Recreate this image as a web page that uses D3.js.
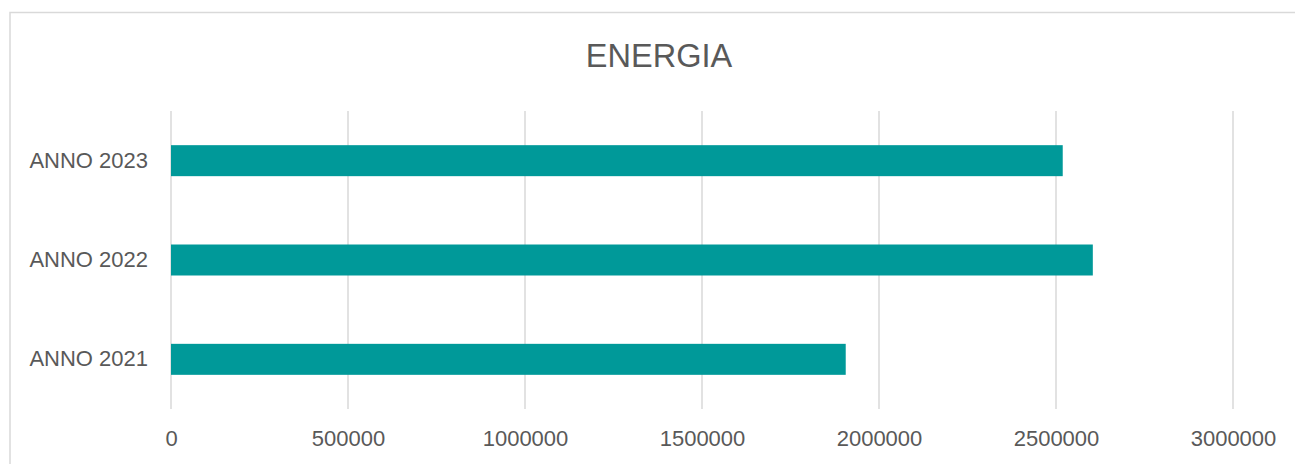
<!DOCTYPE html>
<html>
<head>
<meta charset="utf-8">
<script src="https://cdn.jsdelivr.net/npm/d3@7"></script>
<style>
  body { margin: 0; background: #fff; }
  text { font-family: "Liberation Sans", Arial, sans-serif; fill: #595959; }
</style>
</head>
<body>
<div id="chart"></div>
<script>
const categories = ["ANNO 2023", "ANNO 2022", "ANNO 2021"]
const values = [2519000, 2604000, 1906000]
const tickValues = [0, 500000, 1000000, 1500000, 2000000, 2500000, 3000000]
const title = "ENERGIA"

const outerWidth = 1295
const outerHeight = 464
const margin = {top: 111, bottom: 55, left: 171, right: 62}
const w = outerWidth - margin.left - margin.right
const h = outerHeight - margin.top - margin.bottom

const root = d3.select("#chart")
    .append("svg")
    .attr("width", outerWidth)
    .attr("height", outerHeight)

// chart frame (runs off the right/bottom edge like the source)
root.append("rect")
    .attr("x", 10)
    .attr("y", 12.5)
    .attr("width", outerWidth + 20)
    .attr("height", outerHeight + 20)
    .attr("fill", "none")
    .attr("stroke", "#d9d9d9")
    .attr("stroke-width", 1.5)

root.append("text")
    .attr("x", 659)
    .attr("y", 67)
    .attr("text-anchor", "middle")
    .style("font-size", "32.5px")
    .text(title)

const svg = root.append("g")
    .attr("transform", `translate(${margin.left}, ${margin.top})`)

const xScale = d3.scaleLinear()
    .domain([0, 3000000])
    .range([0, w])

const yScale = d3.scaleBand()
    .domain(categories)
    .range([0, h])
    .paddingInner(0.688)
    .paddingOuter(0.344)

svg.append("g")
    .attr("class", "grid")
    .selectAll("line")
    .data(tickValues)
    .join("line")
    .attr("x1", d => xScale(d))
    .attr("x2", d => xScale(d))
    .attr("y1", 0)
    .attr("y2", h)
    .attr("stroke", "#d9d9d9")
    .attr("stroke-width", 1.5)

svg.selectAll(".bar")
    .data(values)
    .join("rect")
    .attr("class", "bar")
    .attr("x", 0)
    .attr("y", (d, i) => yScale(categories[i]))
    .attr("width", d => xScale(d))
    .attr("height", yScale.bandwidth())
    .attr("fill", "#009999")

const xAxis = d3.axisBottom(xScale)
    .tickValues(tickValues)
    .tickFormat(d3.format("d"))
    .tickSize(0)
    .tickPadding(21)

svg.append("g")
    .attr("class", "axis x-axis")
    .attr("transform", `translate(0, ${h})`)
    .call(xAxis)
    .call(g => g.select(".domain").remove())
    .selectAll("text")
    .style("font-size", "22px")
    .attr("fill", "#595959")

const yAxis = d3.axisLeft(yScale)
    .tickSize(0)
    .tickPadding(23)

svg.append("g")
    .attr("class", "axis y-axis")
    .call(yAxis)
    .call(g => g.select(".domain").remove())
    .selectAll("text")
    .style("font-size", "22px")
    .attr("fill", "#595959")
</script>
</body>
</html>
